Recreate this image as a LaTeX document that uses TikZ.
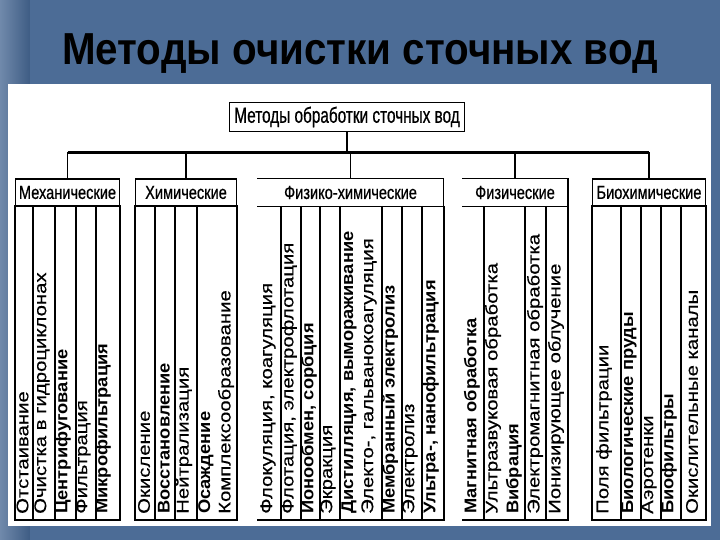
\documentclass[tikz,border=0pt]{standalone}
\usepackage{fontspec}
\setmainfont{Liberation Sans}
\newfontfamily\colfont{Liberation Sans}[FakeStretch=1.2, FakeBold=0.3]
\newfontfamily\colboldfont{Liberation Sans Bold}[FakeStretch=1.08]
\newfontfamily\hdrfont{Liberation Sans}[FakeStretch=0.77, FakeBold=0.6]
\newfontfamily\topfont{Liberation Sans}[FakeStretch=0.7, FakeBold=0.6]
\newfontfamily\ttlfont{Liberation Sans}[FakeStretch=0.9]
\definecolor{bgblue}{RGB}{76,108,150}
\definecolor{bgdark}{RGB}{62,92,132}
\tikzset{
  frame/.style={draw=black, line width=1.1bp},
  hdr/.style={inner sep=0pt, font=\hdrfont\fontsize{19}{21}\selectfont},
  hdrbox/.style={hdr, frame},
  coltext/.style={rotate=90, anchor=west, inner sep=0pt, font=\colfont\fontsize{17}{18}\selectfont},
  boldtext/.style={coltext, font=\colboldfont\fontsize{17}{18}\selectfont},
  bus/.style={line width=2.6bp},
  drop/.style={line width=1.8bp},
}
\begin{document}
\begin{tikzpicture}[x=1bp,y=-1bp]
\useasboundingbox (0,0) rectangle (720,540);
\shade[left color=bgblue!80!white, right color=bgdark] (0,0) rectangle (30,540);
\fill[bgblue] (30,0) rectangle (720,540);
\fill[white] (8,84) rectangle (711,526);

% title
\node[anchor=base, inner sep=0pt, font=\ttlfont\bfseries\fontsize{45}{50}\selectfont] (title) at (360,65) {Методы очистки сточных вод};

% top box
\node[frame, inner sep=0pt, minimum width=236, minimum height=30, font=\topfont\fontsize{22}{24}\selectfont] (top) at (347,117) {Методы обработки сточных вод};

% headers
\node[hdrbox, minimum width=105, minimum height=27] (mech) at (67.5,192.5) {Механические};
\node[hdrbox, minimum width=102, minimum height=27] (chem) at (186,192.5) {Химические};
\node[hdr, minimum width=187, minimum height=27] (phch) at (350.5,192.5) {Физико-химические};
\node[hdr, minimum width=106, minimum height=27] (phys) at (515,192.5) {Физические};
\node[hdrbox, minimum width=114, minimum height=27] (bio) at (649,192.5) {Биохимические};
\draw[frame] (phch.north west) -- (phch.north east) -- (phch.south east) -- (phch.south west);
\draw[frame] (phys.north west) -- (phys.north east) -- (phys.south east) -- (phys.south west);

% connectors
\path (mech.north) ++(0,-26) coordinate (busL);
\path (bio.north) ++(0,-26) coordinate (busR);
\draw[bus] (busL) -- (busR);
\draw[drop] (top.south) -- (top.south |- busL);
\foreach \n in {mech,chem,phch,phys,bio}
  \draw[drop] (\n.north) -- (\n.north |- busL);

% column tables
\draw[frame] (15,206) rectangle (120,520);
\foreach \x in {33,55,76,96} \draw[frame] (\x,206) -- (\x,520);
\draw[frame] (135,206) rectangle (237,520);
\foreach \x in {155,175,197} \draw[frame] (\x,206) -- (\x,520);
\draw[frame] (444,206) -- (444,520) -- (257,520);
\foreach \x in {281,301,320,340,382,402,422} \draw[frame] (\x,206) -- (\x,520);
\draw[frame] (568,206) -- (568,520) -- (462,520);
\foreach \x in {484,525,546} \draw[frame] (\x,206) -- (\x,520);
\draw[frame] (592,206) rectangle (706,520);
\foreach \x in {621,641,661,681} \draw[frame] (\x,206) -- (\x,520);

% mechanical
\node[coltext] (m1) at (22.5,514) {Отстаивание};
\node[coltext] (m2) at (42,514) {Очистка в гидроциклонах};
\node[boldtext] (m3) at (63,514) {Центрифугование};
\node[coltext] (m4) at (83,514) {Фильтрация};
\node[boldtext] (m5) at (103,514) {Микрофильтрация};
% chemical
\node[coltext] (c1) at (144,514) {Окисление};
\node[boldtext] (c2) at (164,514) {Восстановление};
\node[coltext] (c3) at (184,514) {Нейтрализация};
\node[boldtext] (c4) at (206,514) {Осаждение};
\node[coltext] (c5) at (226,514) {Комплексообразование};
% physico-chemical
\node[coltext] (p1) at (268,514) {Флокуляция, коагуляция};
\node[coltext] (p2) at (289,514) {Флотация, электрофлотация};
\node[boldtext] (p3) at (309,514) {Ионообмен, сорбция};
\node[coltext] (p4) at (328,514) {Экракция};
\node[boldtext] (p5) at (349,514) {Дистилляция, вымораживание};
\node[coltext] (p6) at (369,514) {Электо-, гальванокоагуляция};
\node[boldtext] (p7) at (390,514) {Мембранный электролиз};
\node[coltext] (p8) at (410,514) {Электролиз};
\node[boldtext] (p9) at (431,514) {Ультра-, нанофильтрация};
% physical
\node[boldtext] (f1) at (472,514) {Магнитная обработка};
\node[coltext] (f2) at (493,514) {Ультразвуковая обработка};
\node[boldtext] (f3) at (514,514) {Вибрация};
\node[coltext] (f4) at (535,514) {Электромагнитная обработка};
\node[coltext] (f5) at (556,514) {Ионизирующее облучение};
% biochemical
\node[coltext] (b1) at (604,514) {Поля фильтрации};
\node[boldtext] (b2) at (629,514) {Биологические пруды};
\node[coltext] (b3) at (649,514) {Аэротенки};
\node[boldtext] (b4) at (669,514) {Биофильтры};
\node[coltext] (b5) at (692,514) {Окислительные каналы};
\end{tikzpicture}
\end{document}
